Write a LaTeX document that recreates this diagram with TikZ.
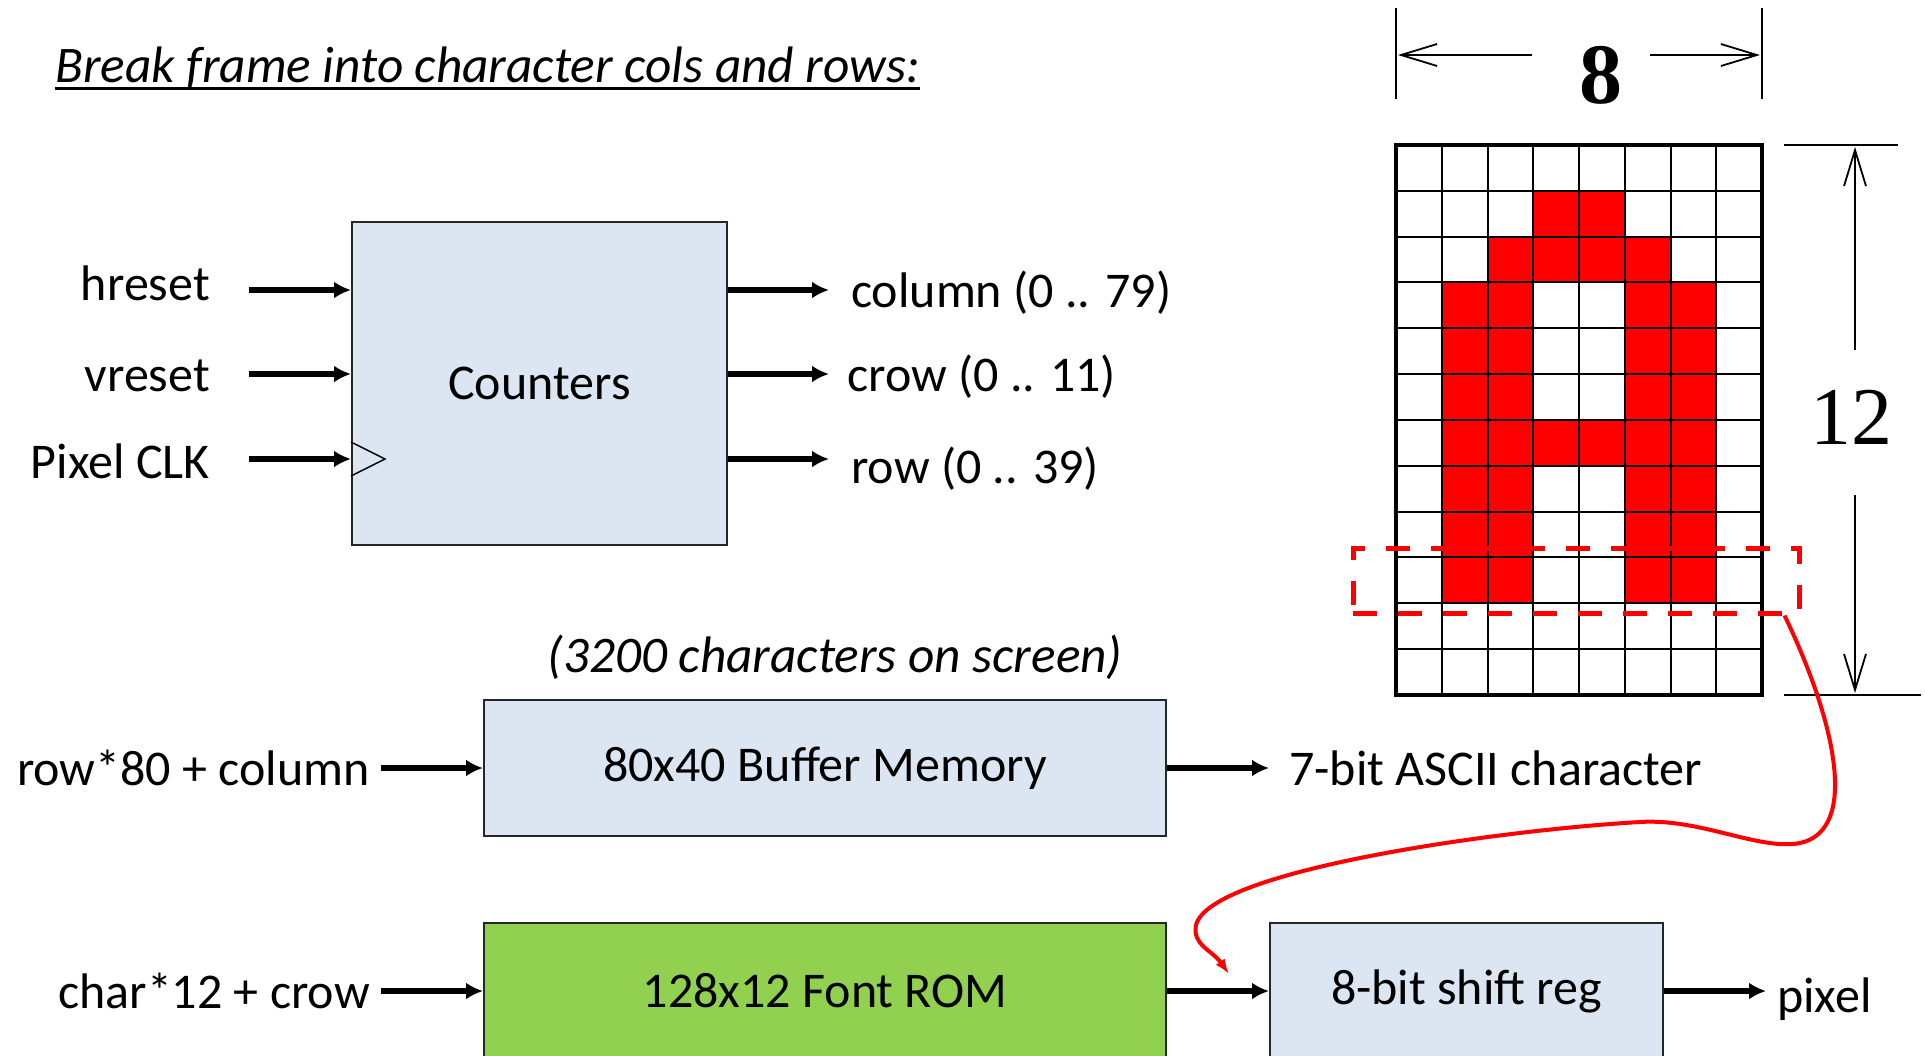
\documentclass[tikz,border=0pt]{standalone}
\usepackage{fontspec}
\setmainfont{Carlito}
\newfontfamily\dimfont{Liberation Serif}
\usepackage{xcolor}
\usetikzlibrary{shapes.geometric, arrows, arrows.meta, positioning}

\definecolor{boxblue}{RGB}{220,230,242}
\definecolor{romgreen}{RGB}{146,208,80}
\definecolor{pixred}{RGB}{255,0,0}

\begin{document}
\begin{tikzpicture}[x=1pt, y=-1pt, node distance=102pt, font=\fontsize{50}{60}\selectfont]
        \tikzstyle{block} = [rectangle, draw=black!85, line width=2pt, fill=boxblue, inner sep=0pt]
        \tikzstyle{line} = [draw, -{Latex[length=17pt, width=17pt]}, line width=6pt]
        \tikzstyle{sig} = [inner sep=0pt]
        \tikzstyle{note} = [inner sep=0pt, font=\itshape\fontsize{51.3}{60}\selectfont]
        \tikzstyle{cell} = [draw=black, line width=2pt]
        \tikzstyle{dimline} = [draw=black, line width=1.8pt]
        \tikzstyle{barb} = [-{Straight Barb[length=36pt, width=22pt]}]

        \useasboundingbox (0,0) rectangle (1925,1055);

        % heading
        \node [note, anchor=base west] (title) at (55,82) {Break frame into character cols and rows:};
        \draw [line width=3pt] ([yshift=-6pt]title.base west) -- ([yshift=-6pt]title.base east);

        % counters
        \node [block, minimum width=375pt, minimum height=323pt] (counters) at (539.5,383.5) {Counters};
        \node [sig, anchor=east] (hreset) at (210,283) {hreset};
        \node [sig, anchor=east] (vreset) at (210,376) {vreset};
        \node [sig, anchor=east] (pixclk) at (210,461) {Pixel CLK};
        \coordinate (hreset-in) at (249,290);
        \coordinate (vreset-in) at (249,374);
        \coordinate (pixclk-in) at (249,459);
        \path [line] (hreset-in) -- (hreset-in -| counters.west);
        \path [line] (vreset-in) -- (vreset-in -| counters.west);
        \path [line] (pixclk-in) -- (pixclk-in -| counters.west);
        \coordinate (clk) at (pixclk-in -| counters.west);
        \draw [line width=1.5pt] ([yshift=17pt]clk) -- ([xshift=34pt]clk) -- ([yshift=-17pt]clk);

        \coordinate (column-out) at (829,290);
        \coordinate (crow-out) at (829,374);
        \coordinate (row-out) at (829,459);
        \path [line] (counters.east |- column-out) -- (column-out);
        \path [line] (counters.east |- crow-out) -- (crow-out);
        \path [line] (counters.east |- row-out) -- (row-out);
        \node [sig, right=22pt of column-out, yshift=-3pt] (column) {column (0 .. 79)};
        \node [sig, right=18pt of crow-out, yshift=-3pt] (crow) {crow (0 .. 11)};
        \node [sig, right=22pt of row-out, yshift=-10pt] (row) {row (0 .. 39)};

        % buffer and font rom
        \node [note] (screen) at (835,657) {(3200 characters on screen)};
        \node [block, minimum width=682pt, minimum height=136pt] (buffer) at (825,768) {80x40 Buffer Memory};
        \node [sig, inner xsep=11pt, left=of buffer] (rowcol) {row*80 + column};
        \node [sig, inner xsep=20pt, right=of buffer] (ascii) {7-bit ASCII character};
        \node [block, fill=romgreen, minimum width=682pt, minimum height=136pt, below=85pt of buffer] (rom) {128x12 Font ROM};
        \node [sig, inner xsep=11pt, left=of rom] (charcrow) {char*12 + crow};
        \node [block, minimum width=393pt, minimum height=136pt, right=of rom] (shiftreg) {8-bit shift reg};
        \coordinate (pixel-out) at ([xshift=102pt]shiftreg.east);
        \node [sig, right=11pt of pixel-out, yshift=-8pt] (pixel) {pixel};

        \path [line] (rowcol) -- (buffer);
        \path [line] (buffer) -- (ascii);
        \path [line] (charcrow) -- (rom);
        \path [line] (rom) -- (shiftreg);
        \path [line] (shiftreg) -- (pixel-out);

        % glyph grid
        \def\gx{1396} \def\gy{145} \def\cw{45.75} \def\ch{45.83}
        \foreach \c/\r in {3/1,4/1, 2/2,3/2,4/2,5/2, 1/3,2/3,5/3,6/3, 1/4,2/4,5/4,6/4, 1/5,2/5,5/5,6/5,
                           1/6,2/6,3/6,4/6,5/6,6/6, 1/7,2/7,5/7,6/7, 1/8,2/8,5/8,6/8, 1/9,2/9,5/9,6/9}
            \fill [pixred] ({\gx+\c*\cw},{\gy+\r*\ch}) rectangle ++(\cw,\ch);
        \foreach \c in {1,...,7}
            \draw [cell] ({\gx+\c*\cw},\gy) -- ++(0,550);
        \foreach \r in {1,...,11}
            \draw [cell] (\gx,{\gy+\r*\ch}) -- ++(366,0);
        \draw [line width=4pt] (\gx,\gy) rectangle ++(366,550);

        % dimensions
        \draw [dimline] (1396,8) -- (1396,99);
        \draw [dimline] (1762,8) -- (1762,99);
        \draw [dimline, barb] (1532,55) -- (1398,55);
        \draw [dimline, barb] (1650,55) -- (1760,55);
        \node [sig, font=\dimfont\bfseries\fontsize{86}{96}\selectfont] (eight) at (1601,75) {8};

        \draw [dimline] (1784,145) -- (1898,145);
        \draw [dimline] (1784,695) -- (1921,695);
        \draw [dimline, barb] (1855,350) -- (1855,147);
        \draw [dimline, barb] (1855,495) -- (1855,693);
        \node [sig, font=\dimfont\fontsize{82}{96}\selectfont] (twelve) at (1851,417) {12};

        % selected row goes to the shift register
        \node [draw=pixred, line width=5pt, dash pattern=on 24pt off 21pt, minimum width=446pt, minimum height=65pt, inner sep=0pt] (rowsel) at (1576,580.5) {};
        \coordinate (load) at ([shift={(-40pt,17pt)}]shiftreg.west);
        \draw [pixred, line width=4pt, -{Latex[length=15pt, width=11pt]}]
            ([xshift=-17pt]rowsel.south east) .. controls (1835,720) and (1860,830) .. (1800,843)
            .. controls (1760,851) and (1700,818) .. (1640,822)
            .. controls (1500,830) and (1210,870) .. (1196,925)
            .. controls (1192,945) and (1212,950) .. (load);
\end{tikzpicture}
\end{document}
